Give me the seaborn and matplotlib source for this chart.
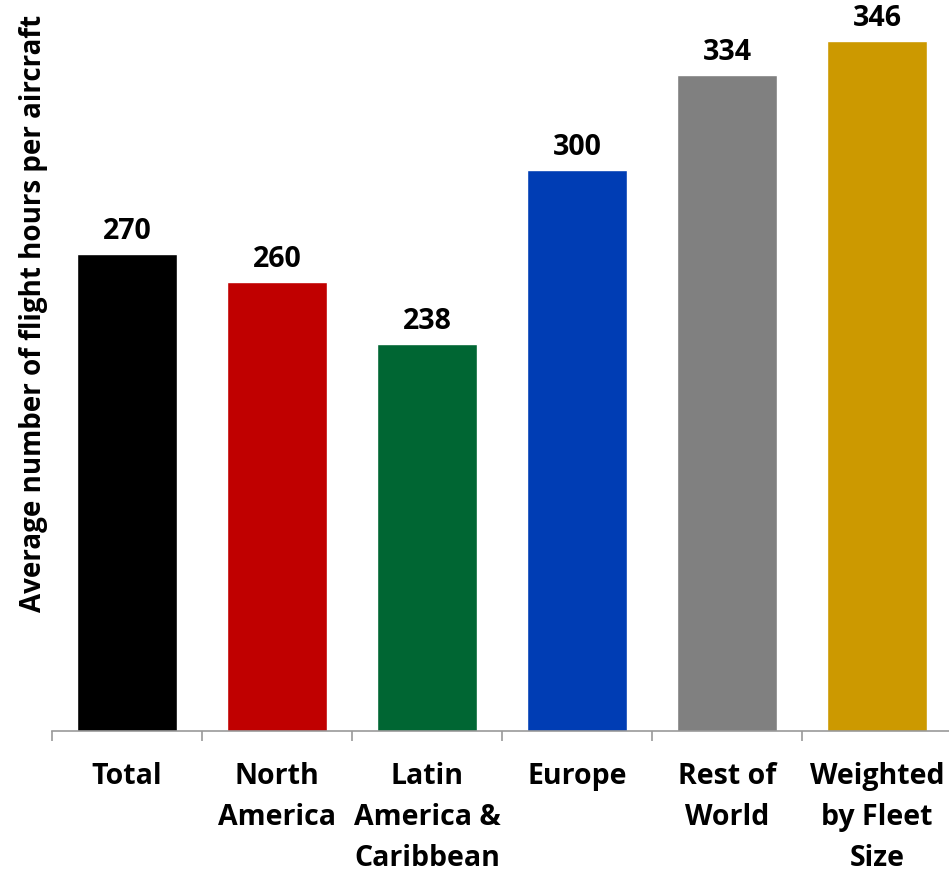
import numpy as np
import pandas as pd
import seaborn as sns
from matplotlib import pyplot as plt

regions = ["Total", "North\nAmerica", "Latin\nAmerica &\nCaribbean", "Europe", "Rest of\nWorld", "Weighted\nby Fleet\nSize"]
hours = [270, 260, 238, 300, 334, 346]
colors = ["#000000", "#C00000", "#006633", "#003DB4", "#808080", "#CC9900"]

sns.set_style("white")
plt.rcParams['font.family'] = ['Open Sans', 'DejaVu Sans']
plt.rcParams['text.color'] = 'black'
plt.rcParams['xtick.color'] = 'black'
plt.rcParams['axes.labelcolor'] = 'black'

df = pd.DataFrame({"region": regions, "hours": hours})

fig = plt.figure(figsize=(9.49, 8.73), dpi=100)
ax = fig.add_axes([52/949, 142/873, 900/949, 729/873])
sns.barplot(data=df, x="region", y="hours", hue="region", palette=colors,
            width=0.667, legend=False, ax=ax, saturation=1)

ax.set_ylim(100, 360)
ax.set_xlim(-0.5, 5.5)
ax.set_yticks([])
for s in ["left", "top", "right"]:
    ax.spines[s].set_visible(False)
ax.spines["bottom"].set_color("#999999")
ax.spines["bottom"].set_linewidth(1.2)

# category separators as minor ticks, labels on majors
ax.set_xticks(np.arange(-0.5, 6, 1), minor=True)
ax.tick_params(axis="x", which="minor", bottom=True, length=7, color="#999999", width=1.2, direction="out")
ax.tick_params(axis="x", which="major", length=0, pad=22, labelcolor="black")
ax.set_xticklabels(regions, fontsize=20.5, fontweight="bold", linespacing=1.56, va="top")
ax.set_xlabel("")

for i, v in enumerate(hours):
    ax.annotate(str(v), (i, v), xytext=(0, 6), textcoords="offset points",
                ha="center", va="bottom", fontsize=20.5, fontweight="bold", color="black")

ax.set_ylabel("Average number of flight hours per aircraft", fontsize=20, fontweight="bold", color="black")
ax.yaxis.set_label_coords(-0.004, 0.573)

fig.savefig("out.png", dpi=100)
